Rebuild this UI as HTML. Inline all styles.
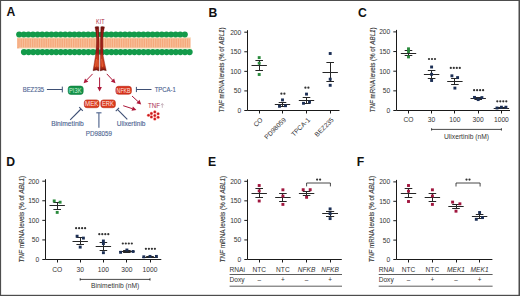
<!DOCTYPE html>
<html><head><meta charset="utf-8"><style>
html,body{margin:0;padding:0;background:#fff;}
body{width:520px;height:296px;overflow:hidden;}
svg{display:block;font-family:"Liberation Sans", sans-serif;}
</style></head><body>
<svg width="520" height="296" viewBox="0 0 520 296" font-family='"Liberation Sans", sans-serif'>
<rect x="0" y="0" width="520" height="296" fill="#fff"/>
<text x="6.5" y="16.4" font-size="12.2" font-weight="bold" fill="#111">A</text>
<text x="208.4" y="16.5" font-size="12.2" font-weight="bold" fill="#111">B</text>
<text x="357.9" y="16.5" font-size="12.2" font-weight="bold" fill="#111">C</text>
<text x="6.3" y="165.9" font-size="12.2" font-weight="bold" fill="#111">D</text>
<text x="208.0" y="165.5" font-size="12.2" font-weight="bold" fill="#111">E</text>
<text x="356.8" y="165.8" font-size="12.2" font-weight="bold" fill="#111">F</text>
<rect x="17" y="37.4" width="173.5" height="11" fill="#f5a97c"/>
<path d="M17.80 38.6V47.6 M20.08 38.6V47.6 M22.36 38.6V47.6 M24.64 38.6V47.6 M26.92 38.6V47.6 M29.20 38.6V47.6 M31.48 38.6V47.6 M33.76 38.6V47.6 M36.04 38.6V47.6 M38.32 38.6V47.6 M40.60 38.6V47.6 M42.88 38.6V47.6 M45.16 38.6V47.6 M47.44 38.6V47.6 M49.72 38.6V47.6 M52.00 38.6V47.6 M54.28 38.6V47.6 M56.56 38.6V47.6 M58.84 38.6V47.6 M61.12 38.6V47.6 M63.40 38.6V47.6 M65.68 38.6V47.6 M67.96 38.6V47.6 M70.24 38.6V47.6 M72.52 38.6V47.6 M74.80 38.6V47.6 M77.08 38.6V47.6 M79.36 38.6V47.6 M81.64 38.6V47.6 M83.92 38.6V47.6 M86.20 38.6V47.6 M88.48 38.6V47.6 M90.76 38.6V47.6 M93.04 38.6V47.6 M95.32 38.6V47.6 M97.60 38.6V47.6 M99.88 38.6V47.6 M102.16 38.6V47.6 M104.44 38.6V47.6 M106.72 38.6V47.6 M109.00 38.6V47.6 M111.28 38.6V47.6 M113.56 38.6V47.6 M115.84 38.6V47.6 M118.12 38.6V47.6 M120.40 38.6V47.6 M122.68 38.6V47.6 M124.96 38.6V47.6 M127.24 38.6V47.6 M129.52 38.6V47.6 M131.80 38.6V47.6 M134.08 38.6V47.6 M136.36 38.6V47.6 M138.64 38.6V47.6 M140.92 38.6V47.6 M143.20 38.6V47.6 M145.48 38.6V47.6 M147.76 38.6V47.6 M150.04 38.6V47.6 M152.32 38.6V47.6 M154.60 38.6V47.6 M156.88 38.6V47.6 M159.16 38.6V47.6 M161.44 38.6V47.6 M163.72 38.6V47.6 M166.00 38.6V47.6 M168.28 38.6V47.6 M170.56 38.6V47.6 M172.84 38.6V47.6 M175.12 38.6V47.6 M177.40 38.6V47.6 M179.68 38.6V47.6 M181.96 38.6V47.6 M184.24 38.6V47.6 M186.52 38.6V47.6 M188.80 38.6V47.6" stroke="#fbd2b4" stroke-width="0.6" fill="none"/>
<rect x="17" y="37.2" width="173.5" height="1.1" fill="#f3f3d6"/>
<rect x="19" y="47.7" width="172.5" height="1.1" fill="#f3f3d6"/>
<g fill="#139a4a"><circle cx="19.20" cy="34.5" r="3.05"/><circle cx="23.80" cy="34.5" r="3.05"/><circle cx="28.40" cy="34.5" r="3.05"/><circle cx="33.00" cy="34.5" r="3.05"/><circle cx="37.60" cy="34.5" r="3.05"/><circle cx="42.20" cy="34.5" r="3.05"/><circle cx="46.80" cy="34.5" r="3.05"/><circle cx="51.40" cy="34.5" r="3.05"/><circle cx="56.00" cy="34.5" r="3.05"/><circle cx="60.60" cy="34.5" r="3.05"/><circle cx="65.20" cy="34.5" r="3.05"/><circle cx="69.80" cy="34.5" r="3.05"/><circle cx="74.40" cy="34.5" r="3.05"/><circle cx="79.00" cy="34.5" r="3.05"/><circle cx="83.60" cy="34.5" r="3.05"/><circle cx="88.20" cy="34.5" r="3.05"/><circle cx="92.80" cy="34.5" r="3.05"/><circle cx="97.40" cy="34.5" r="3.05"/><circle cx="102.00" cy="34.5" r="3.05"/><circle cx="106.60" cy="34.5" r="3.05"/><circle cx="111.20" cy="34.5" r="3.05"/><circle cx="115.80" cy="34.5" r="3.05"/><circle cx="120.40" cy="34.5" r="3.05"/><circle cx="125.00" cy="34.5" r="3.05"/><circle cx="129.60" cy="34.5" r="3.05"/><circle cx="134.20" cy="34.5" r="3.05"/><circle cx="138.80" cy="34.5" r="3.05"/><circle cx="143.40" cy="34.5" r="3.05"/><circle cx="148.00" cy="34.5" r="3.05"/><circle cx="152.60" cy="34.5" r="3.05"/><circle cx="157.20" cy="34.5" r="3.05"/><circle cx="161.80" cy="34.5" r="3.05"/><circle cx="166.40" cy="34.5" r="3.05"/><circle cx="171.00" cy="34.5" r="3.05"/><circle cx="175.60" cy="34.5" r="3.05"/><circle cx="180.20" cy="34.5" r="3.05"/><circle cx="184.80" cy="34.5" r="3.05"/></g>
<g fill="#139a4a"><circle cx="24.00" cy="52.1" r="3.1"/><circle cx="28.60" cy="52.1" r="3.1"/><circle cx="33.20" cy="52.1" r="3.1"/><circle cx="37.80" cy="52.1" r="3.1"/><circle cx="42.40" cy="52.1" r="3.1"/><circle cx="47.00" cy="52.1" r="3.1"/><circle cx="51.60" cy="52.1" r="3.1"/><circle cx="56.20" cy="52.1" r="3.1"/><circle cx="60.80" cy="52.1" r="3.1"/><circle cx="65.40" cy="52.1" r="3.1"/><circle cx="70.00" cy="52.1" r="3.1"/><circle cx="74.60" cy="52.1" r="3.1"/><circle cx="79.20" cy="52.1" r="3.1"/><circle cx="83.80" cy="52.1" r="3.1"/><circle cx="88.40" cy="52.1" r="3.1"/><circle cx="93.00" cy="52.1" r="3.1"/><circle cx="97.60" cy="52.1" r="3.1"/><circle cx="102.20" cy="52.1" r="3.1"/><circle cx="106.80" cy="52.1" r="3.1"/><circle cx="111.40" cy="52.1" r="3.1"/><circle cx="116.00" cy="52.1" r="3.1"/><circle cx="120.60" cy="52.1" r="3.1"/><circle cx="125.20" cy="52.1" r="3.1"/><circle cx="129.80" cy="52.1" r="3.1"/><circle cx="134.40" cy="52.1" r="3.1"/><circle cx="139.00" cy="52.1" r="3.1"/><circle cx="143.60" cy="52.1" r="3.1"/><circle cx="148.20" cy="52.1" r="3.1"/><circle cx="152.80" cy="52.1" r="3.1"/><circle cx="157.40" cy="52.1" r="3.1"/><circle cx="162.00" cy="52.1" r="3.1"/><circle cx="166.60" cy="52.1" r="3.1"/><circle cx="171.20" cy="52.1" r="3.1"/><circle cx="175.80" cy="52.1" r="3.1"/><circle cx="180.40" cy="52.1" r="3.1"/><circle cx="185.00" cy="52.1" r="3.1"/><circle cx="189.60" cy="52.1" r="3.1"/></g>
<text x="96.1" y="24.1" font-size="6.3" fill="#a8263e" textLength="8.4" lengthAdjust="spacingAndGlyphs">KIT</text>
<defs><linearGradient id="rg" gradientUnits="userSpaceOnUse" x1="0" y1="26" x2="0" y2="71"><stop offset="0" stop-color="#6e0f0c"/><stop offset="0.15" stop-color="#86140f"/><stop offset="0.6" stop-color="#9c1913"/><stop offset="0.665" stop-color="#c6381c"/><stop offset="0.88" stop-color="#d0401f"/><stop offset="0.95" stop-color="#9a200f"/><stop offset="1" stop-color="#5d0b0a"/></linearGradient></defs>
<path d="M95.0 26.9 Q96.9 26.1 98.8 26.8 L99.1 44 L98.9 70.9 L96.5 70.1 L93.0 70.7 Q94.5 62 95.4 56 Q96.6 46 96.6 40 Q96.3 32 95.0 26.9 Z" fill="url(#rg)" stroke="#6e120d" stroke-width="0.35"/>
<path d="M100.8 26.8 Q102.6 26.1 104.5 26.9 Q103 32 102.8 40 Q102.8 48 103.2 56 Q104.5 63 106.3 70.7 L103.3 70.1 L100.2 70.9 L100.4 44 Z" fill="url(#rg)" stroke="#6e120d" stroke-width="0.35"/>
<path d="M97.2 29 Q97.9 37 98.0 48" stroke="#c23a2c" stroke-width="0.8" fill="none" opacity="0.8"/>
<path d="M102.5 29 Q101.7 37 101.6 48" stroke="#b02a22" stroke-width="0.6" fill="none" opacity="0.8"/>
<path d="M96.6 59 L95.6 67 M98.0 60 L98.0 67 M101.6 59 L102.6 67" stroke="#f27a48" stroke-width="0.6" fill="none"/>
<line x1="92.6" y1="73.9" x2="86.66" y2="80.04" stroke="#ad1739" stroke-width="1.0"/>
<path d="M83.60 83.20 L85.01 78.44 L88.31 81.64 Z" fill="#ad1739"/>
<line x1="99.6" y1="77.5" x2="99.60" y2="87.10" stroke="#ad1739" stroke-width="1.0"/>
<path d="M99.60 91.50 L97.30 87.10 L101.90 87.10 Z" fill="#ad1739"/>
<line x1="106.8" y1="73.9" x2="112.49" y2="79.99" stroke="#ad1739" stroke-width="1.0"/>
<path d="M115.50 83.20 L110.81 81.56 L114.17 78.42 Z" fill="#ad1739"/>
<line x1="132" y1="96" x2="137.97" y2="101.51" stroke="#ad1739" stroke-width="1.0"/>
<path d="M141.20 104.50 L136.41 103.20 L139.53 99.82 Z" fill="#ad1739"/>
<line x1="123.2" y1="105.7" x2="132.22" y2="108.64" stroke="#ad1739" stroke-width="1.0"/>
<path d="M136.40 110.00 L131.50 110.82 L132.93 106.45 Z" fill="#ad1739"/>
<rect x="68.2" y="86.1" width="15.0" height="8.3" rx="2.6" fill="#14934a" stroke="#0b7a3a" stroke-width="0.6"/>
<text x="69.0" y="92.75" font-size="7.0" fill="#c8f2d4" textLength="12.5" lengthAdjust="spacingAndGlyphs">PI3K</text>
<rect x="115.89999999999999" y="86.3" width="15.500000000000002" height="7.9" rx="2.6" fill="#d9331c" stroke="#b52414" stroke-width="0.6"/>
<text x="116.6" y="92.75" font-size="7.0" fill="#fbe6e0" textLength="14.0" lengthAdjust="spacingAndGlyphs">NFKB</text>
<rect x="84.3" y="99.89999999999999" width="14.8" height="7.800000000000001" rx="2.6" fill="#dc3b1e" stroke="#b82c16" stroke-width="0.6"/>
<text x="85.0" y="106.30" font-size="7.0" fill="#fbe6e0" textLength="13.4" lengthAdjust="spacingAndGlyphs">MEK</text>
<rect x="100.8" y="99.89999999999999" width="14.6" height="7.800000000000001" rx="2.6" fill="#dc3b1e" stroke="#b82c16" stroke-width="0.6"/>
<text x="101.9" y="106.30" font-size="7.0" fill="#fbe6e0" textLength="11.9" lengthAdjust="spacingAndGlyphs">ERK</text>
<line x1="46.9" y1="89.5" x2="62.3" y2="89.5" stroke="#3e4f74" stroke-width="1.0"/>
<line x1="62.30" y1="92.40" x2="62.30" y2="86.60" stroke="#3e4f74" stroke-width="1.0"/>
<text x="22.7" y="92.2" font-size="6.9" fill="#4b6390" stroke="#4b6390" stroke-width="0.12" textLength="21.5" lengthAdjust="spacingAndGlyphs">BEZ235</text>
<line x1="151.5" y1="89.5" x2="136.4" y2="89.5" stroke="#3e4f74" stroke-width="1.0"/>
<line x1="136.40" y1="86.90" x2="136.40" y2="92.10" stroke="#3e4f74" stroke-width="1.0"/>
<text x="154.7" y="92.2" font-size="6.9" fill="#4b6390" stroke="#4b6390" stroke-width="0.12" textLength="21.1" lengthAdjust="spacingAndGlyphs">TPCA-1</text>
<line x1="70.2" y1="119.8" x2="81.0" y2="109.0" stroke="#3e4f74" stroke-width="1.1"/>
<line x1="82.77" y1="110.77" x2="79.23" y2="107.23" stroke="#3e4f74" stroke-width="1.1"/>
<text x="51.2" y="125.8" font-size="6.9" fill="#4b6390" stroke="#4b6390" stroke-width="0.12" textLength="32.6" lengthAdjust="spacingAndGlyphs">Binimetinib</text>
<line x1="98.9" y1="127.8" x2="98.9" y2="112.8" stroke="#5d7096" stroke-width="1.25"/>
<line x1="101.50" y1="112.80" x2="96.30" y2="112.80" stroke="#5d7096" stroke-width="1.25"/>
<text x="85.8" y="135.8" font-size="6.9" fill="#4b6390" stroke="#4b6390" stroke-width="0.12" textLength="26.1" lengthAdjust="spacingAndGlyphs">PD98059</text>
<line x1="127.3" y1="119.4" x2="117.4" y2="109.4" stroke="#3e4f74" stroke-width="1.1"/>
<line x1="119.03" y1="107.78" x2="115.77" y2="111.02" stroke="#3e4f74" stroke-width="1.1"/>
<text x="116.8" y="125.8" font-size="6.9" fill="#4b6390" stroke="#4b6390" stroke-width="0.12" textLength="28.7" lengthAdjust="spacingAndGlyphs">Ulixertinib</text>
<text x="148.1" y="107.8" font-size="6.4" fill="#a82a4e" textLength="11.9" lengthAdjust="spacingAndGlyphs">TNF</text>
<path d="M162.3 107.8 V103.8 M160.9 105.2 L162.3 103.5 L163.7 105.2" stroke="#b59aa6" stroke-width="0.7" fill="none"/>
<g fill="#f2605a"><circle cx="154.8" cy="111.9" r="1.55"/><circle cx="151.4" cy="113.4" r="1.55"/><circle cx="158.1" cy="113.7" r="1.55"/><circle cx="148.5" cy="115.2" r="1.55"/><circle cx="154.8" cy="115.5" r="1.55"/><circle cx="151.4" cy="116.9" r="1.55"/><circle cx="158.1" cy="117.2" r="1.55"/><circle cx="154.8" cy="118.9" r="1.55"/></g>
<g fill="#c1171d"><circle cx="154.8" cy="111.9" r="1.0"/><circle cx="151.4" cy="113.4" r="1.0"/><circle cx="158.1" cy="113.7" r="1.0"/><circle cx="148.5" cy="115.2" r="1.0"/><circle cx="154.8" cy="115.5" r="1.0"/><circle cx="151.4" cy="116.9" r="1.0"/><circle cx="158.1" cy="117.2" r="1.0"/><circle cx="154.8" cy="118.9" r="1.0"/></g>
<path d="M247.5 30.20 V110.5 H339.5" stroke="#1a1a1a" stroke-width="1" fill="none"/>
<line x1="244.3" y1="110.50" x2="247.5" y2="110.50" stroke="#1a1a1a" stroke-width="1"/>
<text x="241.3" y="112.90" font-size="6.7" fill="#333" text-anchor="end">0</text>
<line x1="244.3" y1="90.92" x2="247.5" y2="90.92" stroke="#1a1a1a" stroke-width="1"/>
<text x="241.3" y="93.33" font-size="6.7" fill="#333" text-anchor="end">50</text>
<line x1="244.3" y1="71.35" x2="247.5" y2="71.35" stroke="#1a1a1a" stroke-width="1"/>
<text x="241.3" y="73.75" font-size="6.7" fill="#333" text-anchor="end">100</text>
<line x1="244.3" y1="51.78" x2="247.5" y2="51.78" stroke="#1a1a1a" stroke-width="1"/>
<text x="241.3" y="54.18" font-size="6.7" fill="#333" text-anchor="end">150</text>
<line x1="244.3" y1="32.20" x2="247.5" y2="32.20" stroke="#1a1a1a" stroke-width="1"/>
<text x="241.3" y="34.60" font-size="6.7" fill="#333" text-anchor="end">200</text>
<text transform="translate(224.0 69.85000000000001) rotate(-90)" font-size="7.4" fill="#3a3a3a" stroke="#3a3a3a" stroke-width="0.15" text-anchor="middle" textLength="85.10000000000001" lengthAdjust="spacingAndGlyphs"><tspan font-style="italic">TNF</tspan> mRNA levels (% of <tspan font-style="italic">ABL1</tspan>)</text>
<line x1="259.5" y1="110.5" x2="259.5" y2="113.5" stroke="#1a1a1a" stroke-width="1"/>
<line x1="282.5" y1="110.5" x2="282.5" y2="113.5" stroke="#1a1a1a" stroke-width="1"/>
<line x1="306.5" y1="110.5" x2="306.5" y2="113.5" stroke="#1a1a1a" stroke-width="1"/>
<line x1="330.5" y1="110.5" x2="330.5" y2="113.5" stroke="#1a1a1a" stroke-width="1"/>
<g stroke="#262626" stroke-width="1"><line x1="251.50" y1="65.5" x2="266.90" y2="65.5"/><line x1="255.40" y1="60.5" x2="263.00" y2="60.5"/><line x1="255.40" y1="70.5" x2="263.00" y2="70.5"/><line x1="259.5" y1="60.5" x2="259.5" y2="70.5"/></g>
<g fill="#2a8a3c"><rect x="257.75" y="56.15" width="2.9" height="2.9"/><rect x="257.75" y="61.75" width="2.9" height="2.9"/><rect x="257.75" y="73.05" width="2.9" height="2.9"/></g>
<g stroke="#262626" stroke-width="1"><line x1="274.80" y1="104.5" x2="290.20" y2="104.5"/><line x1="278.70" y1="102.5" x2="286.30" y2="102.5"/><line x1="278.70" y1="106.5" x2="286.30" y2="106.5"/><line x1="282.5" y1="102.5" x2="282.5" y2="106.5"/></g>
<g fill="#1c2f55"><rect x="281.05" y="98.45" width="2.9" height="2.9"/><rect x="278.05" y="104.85" width="2.9" height="2.9"/><rect x="284.05" y="104.25" width="2.9" height="2.9"/></g>
<g fill="#333"><circle cx="281.40" cy="93.7" r="1.12"/><circle cx="284.40" cy="93.7" r="1.12"/></g>
<g stroke="#262626" stroke-width="1"><line x1="298.80" y1="100.5" x2="314.20" y2="100.5"/><line x1="302.70" y1="97.5" x2="310.30" y2="97.5"/><line x1="302.70" y1="103.5" x2="310.30" y2="103.5"/><line x1="306.5" y1="97.5" x2="306.5" y2="103.5"/></g>
<g fill="#1c2f55"><rect x="305.05" y="92.65" width="2.9" height="2.9"/><rect x="302.05" y="101.85" width="2.9" height="2.9"/><rect x="308.05" y="100.65" width="2.9" height="2.9"/></g>
<g fill="#333"><circle cx="305.40" cy="87.7" r="1.12"/><circle cx="308.40" cy="87.7" r="1.12"/></g>
<g stroke="#262626" stroke-width="1"><line x1="322.50" y1="72.5" x2="337.90" y2="72.5"/><line x1="326.40" y1="62.5" x2="334.00" y2="62.5"/><line x1="326.40" y1="81.5" x2="334.00" y2="81.5"/><line x1="330.5" y1="62.5" x2="330.5" y2="81.5"/></g>
<g fill="#1c2f55"><rect x="328.75" y="52.05" width="2.9" height="2.9"/><rect x="328.75" y="77.75" width="2.9" height="2.9"/><rect x="328.75" y="83.85" width="2.9" height="2.9"/></g>
<text transform="translate(263.2 120.3) rotate(-45)" font-size="6.6" fill="#333" text-anchor="end">CO</text>
<text transform="translate(286.5 120.3) rotate(-45)" font-size="6.6" fill="#333" text-anchor="end">PD98059</text>
<text transform="translate(310.5 120.3) rotate(-45)" font-size="6.6" fill="#333" text-anchor="end">TPCA-1</text>
<text transform="translate(334.2 120.3) rotate(-45)" font-size="6.6" fill="#333" text-anchor="end">BEZ235</text>
<path d="M396.5 29.90 V110.5 H510" stroke="#1a1a1a" stroke-width="1" fill="none"/>
<line x1="393.3" y1="110.50" x2="396.5" y2="110.50" stroke="#1a1a1a" stroke-width="1"/>
<text x="390.3" y="112.90" font-size="6.7" fill="#333" text-anchor="end">0</text>
<line x1="393.3" y1="90.85" x2="396.5" y2="90.85" stroke="#1a1a1a" stroke-width="1"/>
<text x="390.3" y="93.25" font-size="6.7" fill="#333" text-anchor="end">50</text>
<line x1="393.3" y1="71.20" x2="396.5" y2="71.20" stroke="#1a1a1a" stroke-width="1"/>
<text x="390.3" y="73.60" font-size="6.7" fill="#333" text-anchor="end">100</text>
<line x1="393.3" y1="51.55" x2="396.5" y2="51.55" stroke="#1a1a1a" stroke-width="1"/>
<text x="390.3" y="53.95" font-size="6.7" fill="#333" text-anchor="end">150</text>
<line x1="393.3" y1="31.90" x2="396.5" y2="31.90" stroke="#1a1a1a" stroke-width="1"/>
<text x="390.3" y="34.30" font-size="6.7" fill="#333" text-anchor="end">200</text>
<text transform="translate(374.6 69.85000000000001) rotate(-90)" font-size="7.4" fill="#3a3a3a" stroke="#3a3a3a" stroke-width="0.15" text-anchor="middle" textLength="85.10000000000001" lengthAdjust="spacingAndGlyphs"><tspan font-style="italic">TNF</tspan> mRNA levels (% of <tspan font-style="italic">ABL1</tspan>)</text>
<line x1="408.5" y1="110.5" x2="408.5" y2="113.5" stroke="#1a1a1a" stroke-width="1"/>
<line x1="431.5" y1="110.5" x2="431.5" y2="113.5" stroke="#1a1a1a" stroke-width="1"/>
<line x1="454.5" y1="110.5" x2="454.5" y2="113.5" stroke="#1a1a1a" stroke-width="1"/>
<line x1="478.5" y1="110.5" x2="478.5" y2="113.5" stroke="#1a1a1a" stroke-width="1"/>
<line x1="501.5" y1="110.5" x2="501.5" y2="113.5" stroke="#1a1a1a" stroke-width="1"/>
<g stroke="#262626" stroke-width="1"><line x1="400.80" y1="53.5" x2="416.20" y2="53.5"/><line x1="404.70" y1="50.5" x2="412.30" y2="50.5"/><line x1="404.70" y1="55.5" x2="412.30" y2="55.5"/><line x1="408.5" y1="50.5" x2="408.5" y2="55.5"/></g>
<g fill="#2a8a3c"><rect x="407.05" y="47.35" width="2.9" height="2.9"/><rect x="407.05" y="50.05" width="2.9" height="2.9"/><rect x="407.05" y="55.45" width="2.9" height="2.9"/></g>
<g stroke="#262626" stroke-width="1"><line x1="423.90" y1="74.5" x2="439.30" y2="74.5"/><line x1="427.80" y1="70.5" x2="435.40" y2="70.5"/><line x1="427.80" y1="78.5" x2="435.40" y2="78.5"/><line x1="431.5" y1="70.5" x2="431.5" y2="78.5"/></g>
<g fill="#1c2f55"><rect x="430.15" y="65.55" width="2.9" height="2.9"/><rect x="430.15" y="72.85" width="2.9" height="2.9"/><rect x="430.15" y="79.05" width="2.9" height="2.9"/></g>
<g fill="#333"><circle cx="429.00" cy="59" r="1.12"/><circle cx="432.00" cy="59" r="1.12"/><circle cx="435.00" cy="59" r="1.12"/></g>
<g stroke="#262626" stroke-width="1"><line x1="447.20" y1="81.5" x2="462.60" y2="81.5"/><line x1="451.10" y1="78.5" x2="458.70" y2="78.5"/><line x1="451.10" y1="84.5" x2="458.70" y2="84.5"/><line x1="454.5" y1="78.5" x2="454.5" y2="84.5"/></g>
<g fill="#1c2f55"><rect x="450.45" y="74.35" width="2.9" height="2.9"/><rect x="456.15" y="76.15" width="2.9" height="2.9"/><rect x="453.45" y="86.65" width="2.9" height="2.9"/></g>
<g fill="#333"><circle cx="450.80" cy="67.9" r="1.12"/><circle cx="453.80" cy="67.9" r="1.12"/><circle cx="456.80" cy="67.9" r="1.12"/><circle cx="459.80" cy="67.9" r="1.12"/></g>
<g stroke="#262626" stroke-width="1"><line x1="470.50" y1="98.5" x2="485.90" y2="98.5"/><line x1="474.40" y1="97.5" x2="482.00" y2="97.5"/><line x1="474.40" y1="99.5" x2="482.00" y2="99.5"/><line x1="478.5" y1="97.5" x2="478.5" y2="99.5"/></g>
<g fill="#1c2f55"><rect x="473.05" y="95.95" width="2.9" height="2.9"/><rect x="476.75" y="98.15" width="2.9" height="2.9"/><rect x="480.45" y="96.15" width="2.9" height="2.9"/></g>
<g fill="#333"><circle cx="474.10" cy="90.2" r="1.12"/><circle cx="477.10" cy="90.2" r="1.12"/><circle cx="480.10" cy="90.2" r="1.12"/><circle cx="483.10" cy="90.2" r="1.12"/></g>
<g stroke="#262626" stroke-width="1"><line x1="493.70" y1="108.5" x2="509.10" y2="108.5"/><line x1="497.60" y1="107.5" x2="505.20" y2="107.5"/><line x1="497.60" y1="108.5" x2="505.20" y2="108.5"/><line x1="501.5" y1="107.5" x2="501.5" y2="108.5"/></g>
<g fill="#1c2f55"><rect x="495.55" y="106.55" width="2.9" height="2.9"/><rect x="499.95" y="105.75" width="2.9" height="2.9"/><rect x="504.45" y="105.75" width="2.9" height="2.9"/></g>
<g fill="#333"><circle cx="497.30" cy="101.3" r="1.12"/><circle cx="500.30" cy="101.3" r="1.12"/><circle cx="503.30" cy="101.3" r="1.12"/><circle cx="506.30" cy="101.3" r="1.12"/></g>
<text x="408.5" y="122.1" font-size="6.7" fill="#333" text-anchor="middle">CO</text>
<text x="431.6" y="122.1" font-size="6.7" fill="#333" text-anchor="middle">30</text>
<text x="454.9" y="122.1" font-size="6.7" fill="#333" text-anchor="middle">100</text>
<text x="478.2" y="122.1" font-size="6.7" fill="#333" text-anchor="middle">300</text>
<text x="501.4" y="122.1" font-size="6.7" fill="#333" text-anchor="middle">1000</text>
<path d="M431.6 128.2 V130.6 M431.6 129.4 H501.4 M501.4 128.2 V130.6" stroke="#1a1a1a" stroke-width="0.8" fill="none"/>
<text x="466.5" y="138.6" font-size="6.7" fill="#333" text-anchor="middle">Ulixertinib (nM)</text>
<path d="M45.5 179.20 V259.5 H161.3" stroke="#1a1a1a" stroke-width="1" fill="none"/>
<line x1="42.3" y1="259.50" x2="45.5" y2="259.50" stroke="#1a1a1a" stroke-width="1"/>
<text x="39.3" y="261.90" font-size="6.7" fill="#333" text-anchor="end">0</text>
<line x1="42.3" y1="239.93" x2="45.5" y2="239.93" stroke="#1a1a1a" stroke-width="1"/>
<text x="39.3" y="242.33" font-size="6.7" fill="#333" text-anchor="end">50</text>
<line x1="42.3" y1="220.35" x2="45.5" y2="220.35" stroke="#1a1a1a" stroke-width="1"/>
<text x="39.3" y="222.75" font-size="6.7" fill="#333" text-anchor="end">100</text>
<line x1="42.3" y1="200.77" x2="45.5" y2="200.77" stroke="#1a1a1a" stroke-width="1"/>
<text x="39.3" y="203.17" font-size="6.7" fill="#333" text-anchor="end">150</text>
<line x1="42.3" y1="181.20" x2="45.5" y2="181.20" stroke="#1a1a1a" stroke-width="1"/>
<text x="39.3" y="183.60" font-size="6.7" fill="#333" text-anchor="end">200</text>
<text transform="translate(24.3 219.1) rotate(-90)" font-size="7.4" fill="#3a3a3a" stroke="#3a3a3a" stroke-width="0.15" text-anchor="middle" textLength="86.59999999999997" lengthAdjust="spacingAndGlyphs"><tspan font-style="italic">TNF</tspan> mRNA levels (% of <tspan font-style="italic">ABL1</tspan>)</text>
<line x1="57.5" y1="259.5" x2="57.5" y2="262.5" stroke="#1a1a1a" stroke-width="1"/>
<line x1="80.5" y1="259.5" x2="80.5" y2="262.5" stroke="#1a1a1a" stroke-width="1"/>
<line x1="103.5" y1="259.5" x2="103.5" y2="262.5" stroke="#1a1a1a" stroke-width="1"/>
<line x1="126.5" y1="259.5" x2="126.5" y2="262.5" stroke="#1a1a1a" stroke-width="1"/>
<line x1="150.5" y1="259.5" x2="150.5" y2="262.5" stroke="#1a1a1a" stroke-width="1"/>
<g stroke="#262626" stroke-width="1"><line x1="49.50" y1="205.5" x2="64.90" y2="205.5"/><line x1="53.40" y1="202.5" x2="61.00" y2="202.5"/><line x1="53.40" y1="209.5" x2="61.00" y2="209.5"/><line x1="57.5" y1="202.5" x2="57.5" y2="209.5"/></g>
<g fill="#2a8a3c"><rect x="52.75" y="199.45" width="2.9" height="2.9"/><rect x="58.65" y="200.75" width="2.9" height="2.9"/><rect x="55.75" y="210.95" width="2.9" height="2.9"/></g>
<g stroke="#262626" stroke-width="1"><line x1="72.50" y1="241.5" x2="87.90" y2="241.5"/><line x1="76.40" y1="237.5" x2="84.00" y2="237.5"/><line x1="76.40" y1="244.5" x2="84.00" y2="244.5"/><line x1="80.5" y1="237.5" x2="80.5" y2="244.5"/></g>
<g fill="#1c2f55"><rect x="75.65" y="234.75" width="2.9" height="2.9"/><rect x="81.95" y="236.65" width="2.9" height="2.9"/><rect x="78.75" y="245.65" width="2.9" height="2.9"/></g>
<g fill="#333"><circle cx="76.10" cy="228.2" r="1.12"/><circle cx="79.10" cy="228.2" r="1.12"/><circle cx="82.10" cy="228.2" r="1.12"/><circle cx="85.10" cy="228.2" r="1.12"/></g>
<g stroke="#262626" stroke-width="1"><line x1="95.70" y1="246.5" x2="111.10" y2="246.5"/><line x1="99.60" y1="242.5" x2="107.20" y2="242.5"/><line x1="99.60" y1="250.5" x2="107.20" y2="250.5"/><line x1="103.5" y1="242.5" x2="103.5" y2="250.5"/></g>
<g fill="#1c2f55"><rect x="101.95" y="239.55" width="2.9" height="2.9"/><rect x="101.95" y="242.15" width="2.9" height="2.9"/><rect x="101.95" y="251.25" width="2.9" height="2.9"/></g>
<g fill="#333"><circle cx="99.30" cy="234.2" r="1.12"/><circle cx="102.30" cy="234.2" r="1.12"/><circle cx="105.30" cy="234.2" r="1.12"/><circle cx="108.30" cy="234.2" r="1.12"/></g>
<g stroke="#262626" stroke-width="1"><line x1="119.20" y1="251.5" x2="134.60" y2="251.5"/><line x1="123.10" y1="250.5" x2="130.70" y2="250.5"/><line x1="123.10" y1="252.5" x2="130.70" y2="252.5"/><line x1="126.5" y1="250.5" x2="126.5" y2="252.5"/></g>
<g fill="#1c2f55"><rect x="119.15" y="250.85" width="2.9" height="2.9"/><rect x="125.45" y="248.55" width="2.9" height="2.9"/><rect x="131.65" y="250.05" width="2.9" height="2.9"/></g>
<g fill="#333"><circle cx="122.80" cy="243.5" r="1.12"/><circle cx="125.80" cy="243.5" r="1.12"/><circle cx="128.80" cy="243.5" r="1.12"/><circle cx="131.80" cy="243.5" r="1.12"/></g>
<g stroke="#262626" stroke-width="1"><line x1="142.30" y1="257.5" x2="157.70" y2="257.5"/><line x1="146.20" y1="256.5" x2="153.80" y2="256.5"/><line x1="146.20" y1="257.5" x2="153.80" y2="257.5"/><line x1="150.5" y1="256.5" x2="150.5" y2="257.5"/></g>
<g fill="#1c2f55"><rect x="142.35" y="255.35" width="2.9" height="2.9"/><rect x="148.55" y="254.95" width="2.9" height="2.9"/><rect x="154.95" y="254.95" width="2.9" height="2.9"/></g>
<g fill="#333"><circle cx="145.90" cy="248.8" r="1.12"/><circle cx="148.90" cy="248.8" r="1.12"/><circle cx="151.90" cy="248.8" r="1.12"/><circle cx="154.90" cy="248.8" r="1.12"/></g>
<text x="57.2" y="271.5" font-size="6.7" fill="#333" text-anchor="middle">CO</text>
<text x="80.2" y="271.5" font-size="6.7" fill="#333" text-anchor="middle">30</text>
<text x="103.4" y="271.5" font-size="6.7" fill="#333" text-anchor="middle">100</text>
<text x="126.9" y="271.5" font-size="6.7" fill="#333" text-anchor="middle">300</text>
<text x="150.0" y="271.5" font-size="6.7" fill="#333" text-anchor="middle">1000</text>
<path d="M80.2 278.2 V280.6 M80.2 279.4 H150 M150 278.2 V280.6" stroke="#1a1a1a" stroke-width="0.8" fill="none"/>
<text x="115.1" y="288.0" font-size="6.7" fill="#333" text-anchor="middle">Binimetinib (nM)</text>
<path d="M247.5 179.30 V259.5 H341.8" stroke="#1a1a1a" stroke-width="1" fill="none"/>
<line x1="244.3" y1="259.50" x2="247.5" y2="259.50" stroke="#1a1a1a" stroke-width="1"/>
<text x="241.3" y="261.90" font-size="6.7" fill="#333" text-anchor="end">0</text>
<line x1="244.3" y1="239.95" x2="247.5" y2="239.95" stroke="#1a1a1a" stroke-width="1"/>
<text x="241.3" y="242.35" font-size="6.7" fill="#333" text-anchor="end">50</text>
<line x1="244.3" y1="220.40" x2="247.5" y2="220.40" stroke="#1a1a1a" stroke-width="1"/>
<text x="241.3" y="222.80" font-size="6.7" fill="#333" text-anchor="end">100</text>
<line x1="244.3" y1="200.85" x2="247.5" y2="200.85" stroke="#1a1a1a" stroke-width="1"/>
<text x="241.3" y="203.25" font-size="6.7" fill="#333" text-anchor="end">150</text>
<line x1="244.3" y1="181.30" x2="247.5" y2="181.30" stroke="#1a1a1a" stroke-width="1"/>
<text x="241.3" y="183.70" font-size="6.7" fill="#333" text-anchor="end">200</text>
<text transform="translate(224.5 219.1) rotate(-90)" font-size="7.4" fill="#3a3a3a" stroke="#3a3a3a" stroke-width="0.15" text-anchor="middle" textLength="86.59999999999997" lengthAdjust="spacingAndGlyphs"><tspan font-style="italic">TNF</tspan> mRNA levels (% of <tspan font-style="italic">ABL1</tspan>)</text>
<line x1="259.5" y1="259.5" x2="259.5" y2="262.5" stroke="#1a1a1a" stroke-width="1"/>
<line x1="282.5" y1="259.5" x2="282.5" y2="262.5" stroke="#1a1a1a" stroke-width="1"/>
<line x1="306.5" y1="259.5" x2="306.5" y2="262.5" stroke="#1a1a1a" stroke-width="1"/>
<line x1="330.5" y1="259.5" x2="330.5" y2="262.5" stroke="#1a1a1a" stroke-width="1"/>
<g stroke="#262626" stroke-width="1"><line x1="251.50" y1="193.5" x2="266.90" y2="193.5"/><line x1="255.40" y1="188.5" x2="263.00" y2="188.5"/><line x1="255.40" y1="197.5" x2="263.00" y2="197.5"/><line x1="259.5" y1="188.5" x2="259.5" y2="197.5"/></g>
<g fill="#a0163e"><rect x="257.75" y="184.05" width="2.9" height="2.9"/><rect x="257.75" y="189.45" width="2.9" height="2.9"/><rect x="257.75" y="199.55" width="2.9" height="2.9"/></g>
<g stroke="#262626" stroke-width="1"><line x1="275.20" y1="197.5" x2="290.60" y2="197.5"/><line x1="279.10" y1="193.5" x2="286.70" y2="193.5"/><line x1="279.10" y1="201.5" x2="286.70" y2="201.5"/><line x1="282.5" y1="193.5" x2="282.5" y2="201.5"/></g>
<g fill="#a0163e"><rect x="281.45" y="188.35" width="2.9" height="2.9"/><rect x="281.45" y="194.65" width="2.9" height="2.9"/><rect x="281.45" y="202.95" width="2.9" height="2.9"/></g>
<g stroke="#262626" stroke-width="1"><line x1="298.90" y1="193.5" x2="314.30" y2="193.5"/><line x1="302.80" y1="191.5" x2="310.40" y2="191.5"/><line x1="302.80" y1="195.5" x2="310.40" y2="195.5"/><line x1="306.5" y1="191.5" x2="306.5" y2="195.5"/></g>
<g fill="#a0163e"><rect x="301.75" y="188.25" width="2.9" height="2.9"/><rect x="308.75" y="188.25" width="2.9" height="2.9"/><rect x="305.15" y="195.85" width="2.9" height="2.9"/></g>
<g stroke="#262626" stroke-width="1"><line x1="322.20" y1="213.5" x2="338.00" y2="213.5"/><line x1="326.00" y1="211.5" x2="334.20" y2="211.5"/><line x1="326.00" y1="216.5" x2="334.20" y2="216.5"/><line x1="330.5" y1="211.5" x2="330.5" y2="216.5"/></g>
<g fill="#1c2f55"><rect x="328.65" y="207.45" width="2.9" height="2.9"/><rect x="328.65" y="212.15" width="2.9" height="2.9"/><rect x="328.65" y="217.15" width="2.9" height="2.9"/></g>
<path d="M306.6 186.4 V183.0 H330.4 V186.4" stroke="#1a1a1a" stroke-width="0.8" fill="none"/>
<g fill="#333"><circle cx="317.10" cy="179.6" r="1.12"/><circle cx="320.10" cy="179.6" r="1.12"/></g>
<text x="229.6" y="271.8" font-size="6.6" fill="#333">RNAi</text>
<text x="259.2" y="271.8" font-size="6.6" fill="#333" text-anchor="middle">NTC</text>
<text x="282.9" y="271.8" font-size="6.6" fill="#333" text-anchor="middle">NTC</text>
<text x="306.6" y="271.8" font-size="6.6" fill="#333" text-anchor="middle" font-style="italic">NFKB</text>
<text x="330.1" y="271.8" font-size="6.6" fill="#333" text-anchor="middle" font-style="italic">NFKB</text>
<line x1="229.6" y1="274.5" x2="342" y2="274.5" stroke="#333" stroke-width="0.8"/>
<text x="229.6" y="281.8" font-size="6.6" fill="#333">Doxy</text>
<text x="259.2" y="281.6" font-size="6.4" fill="#333" text-anchor="middle">–</text>
<text x="282.9" y="281.6" font-size="6.4" fill="#333" text-anchor="middle">+</text>
<text x="306.6" y="281.6" font-size="6.4" fill="#333" text-anchor="middle">–</text>
<text x="330.1" y="281.6" font-size="6.4" fill="#333" text-anchor="middle">+</text>
<line x1="229.6" y1="286.2" x2="342" y2="286.2" stroke="#333" stroke-width="0.8"/>
<path d="M396.5 179.90 V259.5 H492.4" stroke="#1a1a1a" stroke-width="1" fill="none"/>
<line x1="393.3" y1="259.50" x2="396.5" y2="259.50" stroke="#1a1a1a" stroke-width="1"/>
<text x="390.3" y="261.90" font-size="6.7" fill="#333" text-anchor="end">0</text>
<line x1="393.3" y1="240.10" x2="396.5" y2="240.10" stroke="#1a1a1a" stroke-width="1"/>
<text x="390.3" y="242.50" font-size="6.7" fill="#333" text-anchor="end">50</text>
<line x1="393.3" y1="220.70" x2="396.5" y2="220.70" stroke="#1a1a1a" stroke-width="1"/>
<text x="390.3" y="223.10" font-size="6.7" fill="#333" text-anchor="end">100</text>
<line x1="393.3" y1="201.30" x2="396.5" y2="201.30" stroke="#1a1a1a" stroke-width="1"/>
<text x="390.3" y="203.70" font-size="6.7" fill="#333" text-anchor="end">150</text>
<line x1="393.3" y1="181.90" x2="396.5" y2="181.90" stroke="#1a1a1a" stroke-width="1"/>
<text x="390.3" y="184.30" font-size="6.7" fill="#333" text-anchor="end">200</text>
<text transform="translate(374.3 219.0) rotate(-90)" font-size="7.4" fill="#3a3a3a" stroke="#3a3a3a" stroke-width="0.15" text-anchor="middle" textLength="86.39999999999998" lengthAdjust="spacingAndGlyphs"><tspan font-style="italic">TNF</tspan> mRNA levels (% of <tspan font-style="italic">ABL1</tspan>)</text>
<line x1="408.5" y1="259.5" x2="408.5" y2="262.5" stroke="#1a1a1a" stroke-width="1"/>
<line x1="432.5" y1="259.5" x2="432.5" y2="262.5" stroke="#1a1a1a" stroke-width="1"/>
<line x1="456.5" y1="259.5" x2="456.5" y2="262.5" stroke="#1a1a1a" stroke-width="1"/>
<line x1="479.5" y1="259.5" x2="479.5" y2="262.5" stroke="#1a1a1a" stroke-width="1"/>
<g stroke="#262626" stroke-width="1"><line x1="400.80" y1="193.5" x2="416.20" y2="193.5"/><line x1="404.70" y1="188.5" x2="412.30" y2="188.5"/><line x1="404.70" y1="197.5" x2="412.30" y2="197.5"/><line x1="408.5" y1="188.5" x2="408.5" y2="197.5"/></g>
<g fill="#a0163e"><rect x="407.05" y="184.05" width="2.9" height="2.9"/><rect x="407.05" y="189.75" width="2.9" height="2.9"/><rect x="407.05" y="200.05" width="2.9" height="2.9"/></g>
<g stroke="#262626" stroke-width="1"><line x1="424.70" y1="197.5" x2="440.10" y2="197.5"/><line x1="428.60" y1="193.5" x2="436.20" y2="193.5"/><line x1="428.60" y1="201.5" x2="436.20" y2="201.5"/><line x1="432.5" y1="193.5" x2="432.5" y2="201.5"/></g>
<g fill="#a0163e"><rect x="430.95" y="188.35" width="2.9" height="2.9"/><rect x="430.95" y="194.55" width="2.9" height="2.9"/><rect x="430.95" y="202.95" width="2.9" height="2.9"/></g>
<g stroke="#262626" stroke-width="1"><line x1="448.30" y1="206.5" x2="463.70" y2="206.5"/><line x1="452.20" y1="204.5" x2="459.80" y2="204.5"/><line x1="452.20" y1="208.5" x2="459.80" y2="208.5"/><line x1="456.5" y1="204.5" x2="456.5" y2="208.5"/></g>
<g fill="#a0163e"><rect x="451.15" y="200.65" width="2.9" height="2.9"/><rect x="458.45" y="202.35" width="2.9" height="2.9"/><rect x="454.55" y="209.75" width="2.9" height="2.9"/></g>
<g stroke="#262626" stroke-width="1"><line x1="471.90" y1="216.5" x2="487.30" y2="216.5"/><line x1="475.80" y1="214.5" x2="483.40" y2="214.5"/><line x1="475.80" y1="218.5" x2="483.40" y2="218.5"/><line x1="479.5" y1="214.5" x2="479.5" y2="218.5"/></g>
<g fill="#1c2f55"><rect x="478.15" y="211.05" width="2.9" height="2.9"/><rect x="474.85" y="217.85" width="2.9" height="2.9"/><rect x="481.05" y="216.15" width="2.9" height="2.9"/></g>
<path d="M456.0 186.5 V183.0 H480.1 V186.5" stroke="#1a1a1a" stroke-width="0.8" fill="none"/>
<g fill="#333"><circle cx="466.50" cy="179.6" r="1.12"/><circle cx="469.50" cy="179.6" r="1.12"/></g>
<text x="378.7" y="271.8" font-size="6.6" fill="#333">RNAi</text>
<text x="408.5" y="271.8" font-size="6.6" fill="#333" text-anchor="middle">NTC</text>
<text x="432.4" y="271.8" font-size="6.6" fill="#333" text-anchor="middle">NTC</text>
<text x="456.0" y="271.8" font-size="6.6" fill="#333" text-anchor="middle" font-style="italic">MEK1</text>
<text x="479.6" y="271.8" font-size="6.6" fill="#333" text-anchor="middle" font-style="italic">MEK1</text>
<line x1="378.7" y1="274.5" x2="492.6" y2="274.5" stroke="#333" stroke-width="0.8"/>
<text x="378.7" y="281.8" font-size="6.6" fill="#333">Doxy</text>
<text x="408.5" y="281.6" font-size="6.4" fill="#333" text-anchor="middle">–</text>
<text x="432.4" y="281.6" font-size="6.4" fill="#333" text-anchor="middle">+</text>
<text x="456.0" y="281.6" font-size="6.4" fill="#333" text-anchor="middle">–</text>
<text x="479.6" y="281.6" font-size="6.4" fill="#333" text-anchor="middle">+</text>
<line x1="378.7" y1="286.2" x2="492.6" y2="286.2" stroke="#333" stroke-width="0.8"/>
<g fill="#4d4d4d"><rect x="0" y="0" width="520" height="1"/><rect x="0" y="0" width="1.1" height="296"/><rect x="518.5" y="0" width="1.5" height="296"/><rect x="0" y="294.8" width="520" height="1.2"/></g>
</svg>
</body></html>
